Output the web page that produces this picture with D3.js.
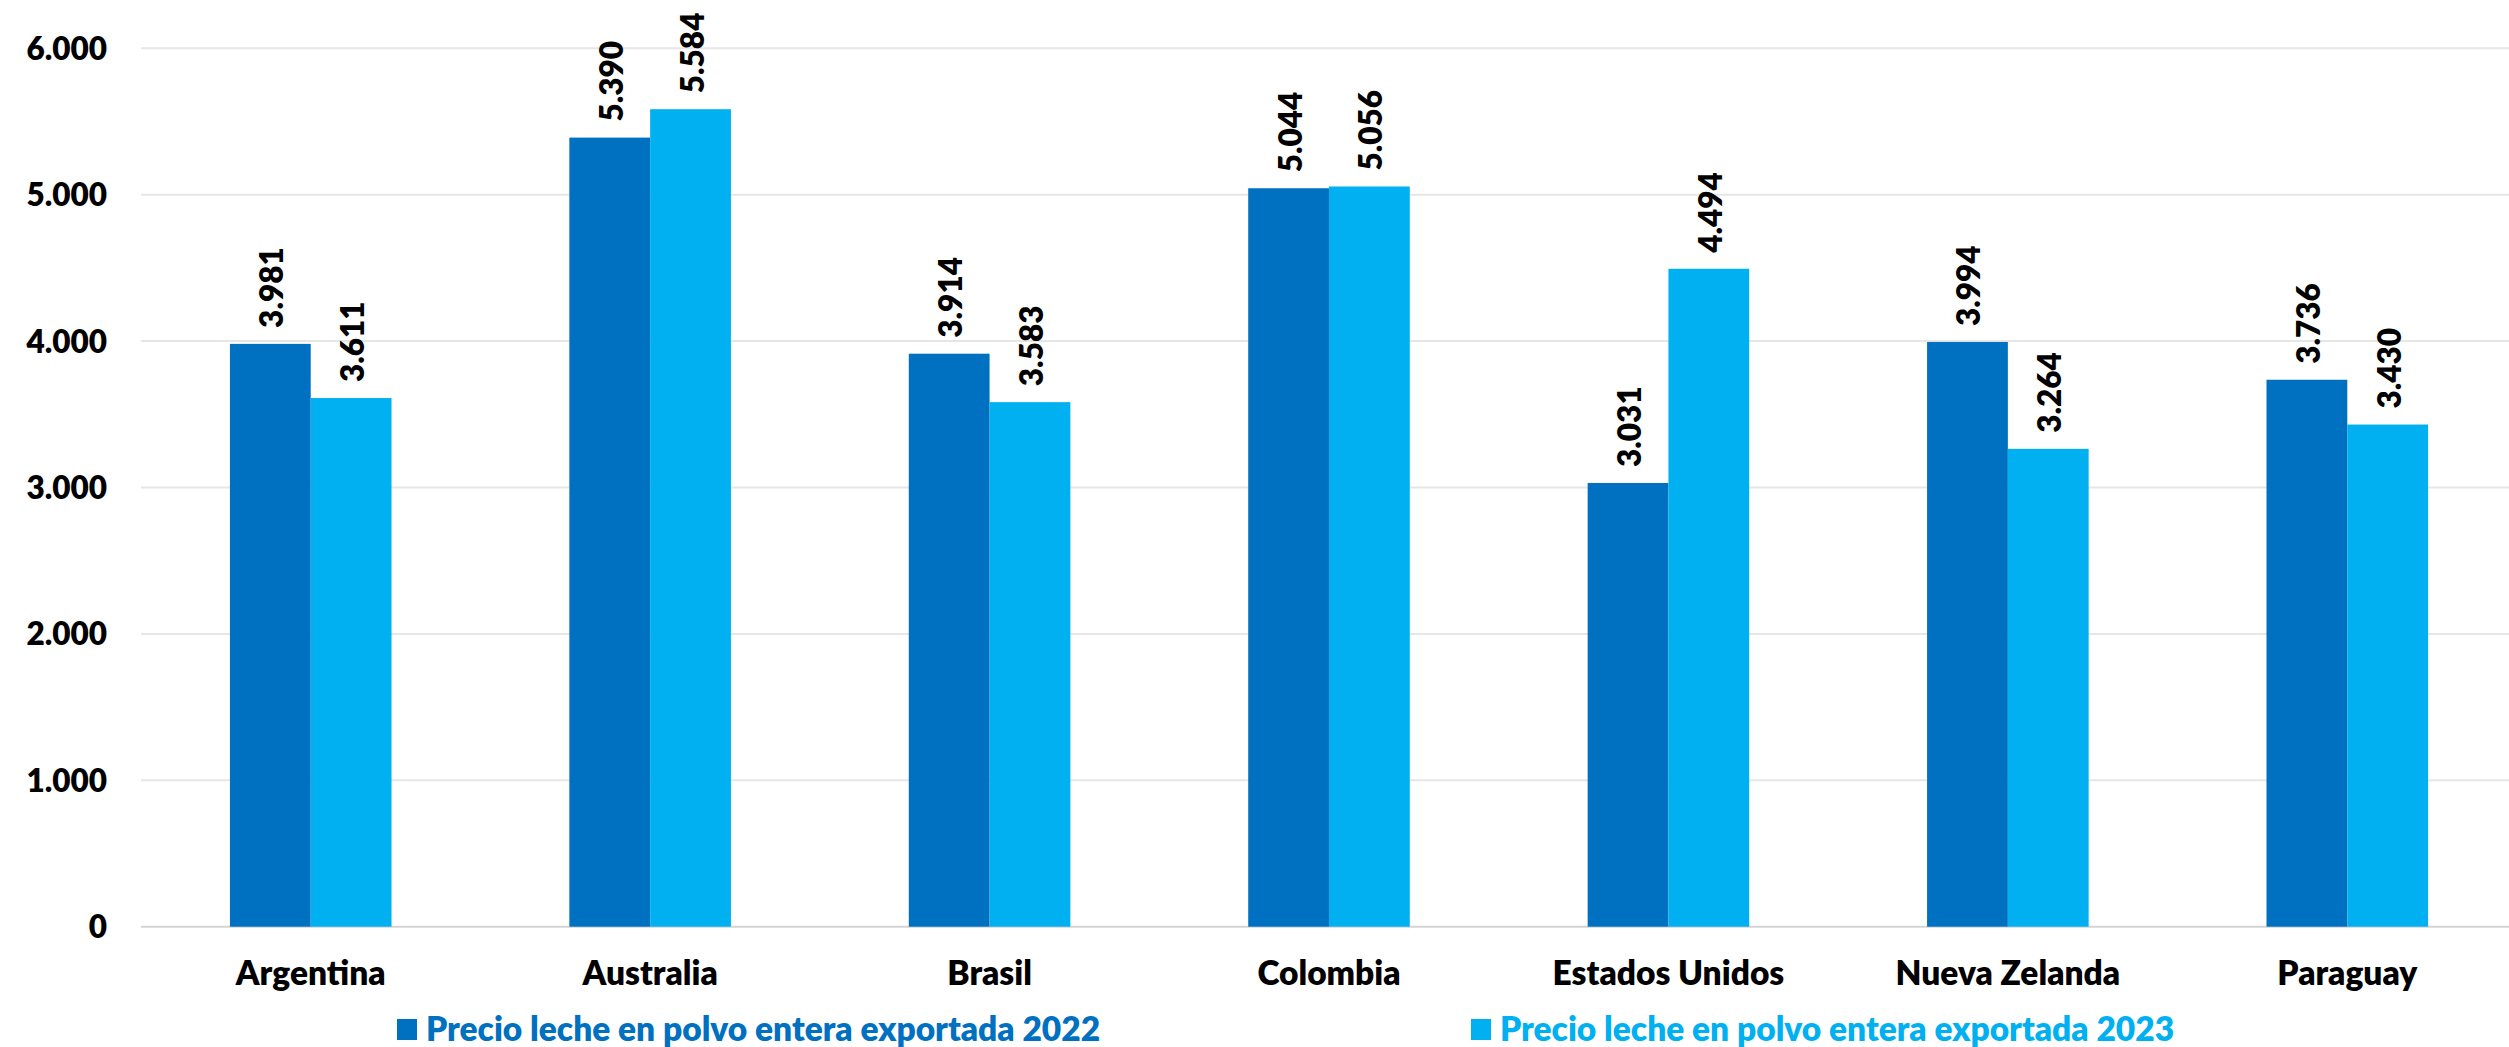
<!DOCTYPE html>
<html><head><meta charset="utf-8">
<script src="https://cdn.jsdelivr.net/npm/d3@7"></script>
<style>
html,body{margin:0;padding:0;background:#fff;overflow:hidden}
text{font-family:Lato,"Open Sans",sans-serif;font-weight:800}
</style></head>
<body><svg id="c" width="2509" height="1047"></svg>
<script>
const categories = ["Argentina","Australia","Brasil","Colombia","Estados Unidos","Nueva Zelanda","Paraguay"];
const seriesNames = ["Precio leche en polvo entera exportada 2022","Precio leche en polvo entera exportada 2023"];
const values2022 = [3981,5390,3914,5044,3031,3994,3736];
const values2023 = [3611,5584,3583,5056,4494,3264,3430];
const yTicks = [0,1000,2000,3000,4000,5000,6000];
const colors = ["#0070C0","#00B0F0"];

(function(){
const loc = d3.formatLocale({decimal:",",thousands:".",grouping:[3],currency:["$",""]});
const fmt = loc.format(",d");

const svg = d3.select("#c");
const mLeft = 141, mRight = 2517, mTop = 48.3, mBottom = 926.7;
const x = d3.scaleBand().domain(categories).range([mLeft,mRight]).paddingInner(0.524).paddingOuter(0.262);
const xs = d3.scaleBand().domain([0,1]).range([0,x.bandwidth()]);
const y = d3.scaleLinear().domain([0,6000]).range([mBottom,mTop]);

svg.append("g").selectAll("line").data(yTicks).join("line")
  .attr("x1",mLeft).attr("x2",2509)
  .attr("y1",d=>y(d)).attr("y2",d=>y(d))
  .attr("stroke",d=>d===0?"#d4d4d4":"#e6e6e6").attr("stroke-width",2);

const yAxis = d3.axisLeft(y).tickValues(yTicks).tickFormat(d=>fmt(d)).tickSize(0).tickPadding(0);
const ga = svg.append("g").attr("transform","translate(107,0)").call(yAxis);
ga.select(".domain").remove();
ga.selectAll("text").attr("font-size",31.5).attr("fill","#000").attr("font-family","Lato,'Open Sans',sans-serif").attr("font-weight",800).attr("dy","0.35em");

const xAxis = d3.axisBottom(x).tickSize(0).tickPadding(0);
const gx = svg.append("g").attr("transform","translate(0,985)").call(xAxis);
gx.select(".domain").remove();
gx.selectAll("text").attr("font-size",33.5).attr("fill","#000").attr("font-family","Lato,'Open Sans',sans-serif").attr("font-weight",800).attr("dy","0");

const series = [values2022, values2023];
const data = [];
categories.forEach((c,i)=>series.forEach((s,j)=>data.push({c, j, v:s[i]})));

svg.append("g").selectAll("rect").data(data).join("rect")
  .attr("x",d=>x(d.c)+xs(d.j)).attr("width",xs.bandwidth())
  .attr("y",d=>y(d.v)).attr("height",d=>y(0)-y(d.v))
  .attr("fill",d=>colors[d.j]);

svg.append("g").selectAll("text").data(data).join("text")
  .attr("transform",d=>`translate(${x(d.c)+xs(d.j)+xs.bandwidth()/2+13},${y(d.v)-16}) rotate(-90)`)
  .attr("text-anchor","start").attr("font-size",31.5).attr("fill","#000")
  .text(d=>fmt(d.v));

const legX = [397, 1471];
const lg = svg.append("g").selectAll("g").data(seriesNames).join("g")
  .attr("transform",(d,i)=>`translate(${legX[i]},1041)`);
lg.append("rect").attr("x",0).attr("y",-22).attr("width",20).attr("height",21).attr("fill",(d,i)=>colors[i]);
lg.append("text").attr("x",29).attr("y",0).attr("font-size",33.5)
  .attr("fill",(d,i)=>colors[i]).text(d=>d);
})();
</script></body></html>
